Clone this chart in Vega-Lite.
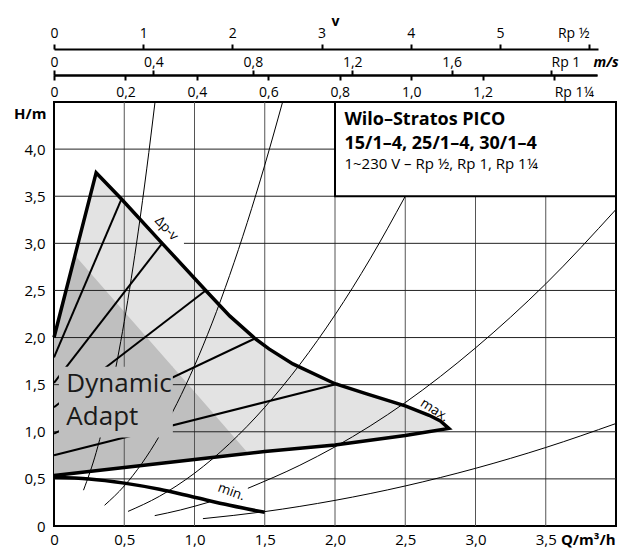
{
  "$schema": "https://vega.github.io/schema/vega-lite/v6.json",
  "width": 562,
  "height": 424,
  "autosize": {"type": "none"},
  "padding": {"left": 54, "top": 102, "right": 3, "bottom": 22},
  "background": "white",
  "config": {
    "font": "Open Sans",
    "view": {"stroke": "#000", "strokeWidth": 2},
    "axis": {
      "labelFont": "Open Sans", "labelFontSize": 14, "labelColor": "#000",
      "titleFont": "Open Sans", "titleFontSize": 14, "titleColor": "#000",
      "grid": false, "labelFlush": false, "labelOverlap": false
    }
  },
  "datasets": {
    "light": [
      {"q": 0, "top": 2.0, "bot": 0.535},
      {"q": 0.3, "top": 3.75, "bot": 0.586},
      {"q": 0.48, "top": 3.47, "bot": 0.617},
      {"q": 0.77, "top": 3.0, "bot": 0.666},
      {"q": 1.08, "top": 2.5, "bot": 0.72},
      {"q": 1.25, "top": 2.23, "bot": 0.748},
      {"q": 1.43, "top": 1.99, "bot": 0.777},
      {"q": 1.53, "top": 1.88, "bot": 0.794},
      {"q": 1.7, "top": 1.72, "bot": 0.818},
      {"q": 2.0, "top": 1.51, "bot": 0.86},
      {"q": 2.22, "top": 1.405, "bot": 0.904},
      {"q": 2.5, "top": 1.275, "bot": 0.96},
      {"q": 2.67, "top": 1.175, "bot": 1.001},
      {"q": 2.75, "top": 1.115, "bot": 1.02},
      {"q": 2.81, "top": 1.035, "bot": 1.035}
    ],
    "dark": [
      {"q": 0, "top": 2.0, "bot": 0.535},
      {"q": 0.15, "top": 2.87, "bot": 0.561},
      {"q": 0.5, "top": 2.275, "bot": 0.62},
      {"q": 1.0, "top": 1.425, "bot": 0.705},
      {"q": 1.38, "top": 0.775, "bot": 0.775}
    ],
    "env": [
      {"i": 0, "q": 0, "h": 0.535},
      {"i": 1, "q": 1.0, "h": 0.705},
      {"i": 2, "q": 1.5, "h": 0.79},
      {"i": 3, "q": 2.0, "h": 0.86},
      {"i": 4, "q": 2.5, "h": 0.96},
      {"i": 5, "q": 2.81, "h": 1.035},
      {"i": 6, "q": 2.75, "h": 1.115},
      {"i": 7, "q": 2.67, "h": 1.175},
      {"i": 8, "q": 2.5, "h": 1.275},
      {"i": 9, "q": 2.22, "h": 1.405},
      {"i": 10, "q": 2.0, "h": 1.51},
      {"i": 11, "q": 1.7, "h": 1.72},
      {"i": 12, "q": 1.53, "h": 1.88},
      {"i": 13, "q": 1.43, "h": 1.99},
      {"i": 14, "q": 1.25, "h": 2.23},
      {"i": 15, "q": 1.08, "h": 2.5},
      {"i": 16, "q": 0.77, "h": 3.0},
      {"i": 17, "q": 0.48, "h": 3.47},
      {"i": 18, "q": 0.3, "h": 3.75},
      {"i": 19, "q": 0, "h": 2.0}
    ],
    "minc": [
      {"q": 0, "h": 0.515},
      {"q": 0.25, "h": 0.5},
      {"q": 0.5, "h": 0.455},
      {"q": 0.75, "h": 0.39},
      {"q": 1.0, "h": 0.305},
      {"q": 1.25, "h": 0.22},
      {"q": 1.5, "h": 0.145}
    ],
    "sys": [
      {"c": "T1", "q": 0.21, "h": 0.38}, {"c": "T1", "q": 0.3, "h": 0.78}, {"c": "T1", "q": 0.4, "h": 1.39},
      {"c": "T1", "q": 0.5, "h": 2.17}, {"c": "T1", "q": 0.6, "h": 3.13}, {"c": "T1", "q": 0.66, "h": 3.79},
      {"c": "T1", "q": 0.719, "h": 4.5},
      {"c": "T2", "q": 0.36, "h": 0.22}, {"c": "T2", "q": 0.5, "h": 0.425}, {"c": "T2", "q": 0.75, "h": 0.955},
      {"c": "T2", "q": 1.0, "h": 1.7}, {"c": "T2", "q": 1.25, "h": 2.66}, {"c": "T2", "q": 1.5, "h": 3.83},
      {"c": "T2", "q": 1.627, "h": 4.5},
      {"c": "T3", "q": 0.527, "h": 0.155}, {"c": "T3", "q": 0.75, "h": 0.315}, {"c": "T3", "q": 1.0, "h": 0.56},
      {"c": "T3", "q": 1.25, "h": 0.875}, {"c": "T3", "q": 1.5, "h": 1.26}, {"c": "T3", "q": 1.75, "h": 1.715},
      {"c": "T3", "q": 2.0, "h": 2.24}, {"c": "T3", "q": 2.25, "h": 2.835}, {"c": "T3", "q": 2.5, "h": 3.5},
      {"c": "T4a", "q": 0.717, "h": 0.11}, {"c": "T4a", "q": 0.9, "h": 0.17}, {"c": "T4a", "q": 1.107, "h": 0.255},
      {"c": "T4b", "q": 1.38, "h": 0.4}, {"c": "T4b", "q": 1.75, "h": 0.645}, {"c": "T4b", "q": 2.0, "h": 0.84},
      {"c": "T4b", "q": 2.5, "h": 1.31}, {"c": "T4b", "q": 3.0, "h": 1.89}, {"c": "T4b", "q": 3.5, "h": 2.57},
      {"c": "T4b", "q": 4.0, "h": 3.36},
      {"c": "T5", "q": 1.06, "h": 0.078}, {"c": "T5", "q": 1.5, "h": 0.153}, {"c": "T5", "q": 2.0, "h": 0.272},
      {"c": "T5", "q": 2.5, "h": 0.425}, {"c": "T5", "q": 3.0, "h": 0.612}, {"c": "T5", "q": 3.5, "h": 0.833},
      {"c": "T5", "q": 4.0, "h": 1.088}
    ],
    "da": [
      {"c": "A", "q": 0, "h": 0.75}, {"c": "A", "q": 2.02, "h": 1.51},
      {"c": "B", "q": 0, "h": 0.98}, {"c": "B", "q": 1.43, "h": 1.99},
      {"c": "C", "q": 0, "h": 1.26}, {"c": "C", "q": 1.08, "h": 2.5},
      {"c": "D", "q": 0, "h": 1.52}, {"c": "D", "q": 0.77, "h": 3.0},
      {"c": "E", "q": 0, "h": 1.79}, {"c": "E", "q": 0.48, "h": 3.47}
    ],
    "vgrid": [
      {"q": 0.5, "h1": 0, "h2": 4.5}, {"q": 1.0, "h1": 0, "h2": 4.5}, {"q": 1.5, "h1": 0, "h2": 4.5},
      {"q": 2.0, "h1": 0, "h2": 4.5}, {"q": 2.5, "h1": 0, "h2": 4.5}, {"q": 3.0, "h1": 0, "h2": 4.5},
      {"q": 3.5, "h1": 0, "h2": 4.5}
    ],
    "hgrid": [
      {"h": 0.5, "q1": 0, "q2": 4}, {"h": 1.0, "q1": 0, "q2": 4}, {"h": 1.5, "q1": 0, "q2": 4},
      {"h": 2.0, "q1": 0, "q2": 4}, {"h": 2.5, "q1": 0, "q2": 4},
      {"h": 3.0, "q1": 0, "q2": 0.77}, {"h": 3.0, "q1": 0.925, "q2": 4},
      {"h": 3.5, "q1": 0, "q2": 4}, {"h": 4.0, "q1": 0, "q2": 4}
    ],
    "daBox": [{"q1": 0.035, "q2": 0.846, "h1": 0.94, "h2": 1.69}],
    "titleBox": [{"q1": 2.0, "q2": 4.0, "h1": 3.5, "h2": 4.5}],
    "titleBold": [
      {"q": 2.067, "h": 4.254, "t": "Wilo–Stratos PICO"},
      {"q": 2.067, "h": 3.996, "t": "15/1–4, 25/1–4, 30/1–4"}
    ],
    "titleReg": [{"q": 2.067, "h": 3.794, "t": "1~230 V – Rp ½, Rp 1, Rp 1¼"}],
    "daText": [
      {"q": 0.088, "h": 1.423, "t": "Dynamic"},
      {"q": 0.088, "h": 1.069, "t": "Adapt"}
    ],
    "lblDpv": [{"q": 0.8, "h": 3.157, "t": "Δp-v"}],
    "lblMax": [{"q": 2.708, "h": 1.228, "t": "max."}],
    "lblMin": [{"q": 1.262, "h": 0.361, "t": "min."}]
  },
  "resolve": {"scale": {"x": "independent"}, "axis": {"x": "independent"}},
  "layer": [
    {
      "data": {"name": "light"},
      "mark": {"type": "area", "color": "#e3e3e3"},
      "encoding": {
        "x": {"field": "q", "type": "quantitative",
          "scale": {"domain": [0, 4], "nice": false, "zero": false},
          "axis": {
            "orient": "bottom",
            "values": [0, 0.5, 1, 1.5, 2, 2.5, 3, 3.5],
            "labelExpr": "datum.value == 0 ? '0' : replace(format(datum.value, '.1f'), '.', ',')",
            "labelFontSize": 15,
            "ticks": false, "domain": false, "labelPadding": 13, "labelBaseline": "middle",
            "title": "Q/m³/h", "titleFontSize": 15, "titleFontWeight": "bold", "titleX": 561, "titleY": 13,
            "titleAlign": "right", "titleBaseline": "middle"
          }},
        "y": {"field": "top", "type": "quantitative",
          "scale": {"domain": [0, 4.5], "nice": false, "zero": false},
          "axis": {
            "orient": "left",
            "values": [0, 0.5, 1, 1.5, 2, 2.5, 3, 3.5, 4],
            "labelExpr": "datum.value == 0 ? '0' : replace(format(datum.value, '.1f'), '.', ',')",
            "labelFontSize": 15,
            "ticks": false, "domain": false, "labelPadding": 9, "labelBaseline": "middle",
            "title": "H/m", "titleFontSize": 15, "titleFontWeight": "bold", "titleAngle": 0, "titleX": -8, "titleY": 11,
            "titleAlign": "right", "titleBaseline": "middle"
          }},
        "y2": {"field": "bot"}
      }
    },
    {
      "data": {"name": "dark"},
      "mark": {"type": "area", "color": "#bfbfbf"},
      "encoding": {
        "x": {"field": "q", "type": "quantitative", "scale": {"domain": [0, 4], "nice": false, "zero": false}, "axis": null},
        "y": {"field": "top", "type": "quantitative"},
        "y2": {"field": "bot"}
      }
    },
    {
      "data": {"name": "vgrid"},
      "mark": {"type": "rule", "color": "#555", "strokeWidth": 1},
      "encoding": {
        "x": {"field": "q", "type": "quantitative", "scale": {"domain": [0, 4], "nice": false, "zero": false}, "axis": null},
        "y": {"field": "h1", "type": "quantitative"},
        "y2": {"field": "h2"}
      }
    },
    {
      "data": {"name": "hgrid"},
      "mark": {"type": "rule", "color": "#222", "strokeWidth": 1},
      "encoding": {
        "x": {"field": "q1", "type": "quantitative", "scale": {"domain": [0, 4], "nice": false, "zero": false}, "axis": null},
        "x2": {"field": "q2"},
        "y": {"field": "h", "type": "quantitative"}
      }
    },
    {
      "data": {"name": "sys"},
      "mark": {"type": "line", "color": "#000", "strokeWidth": 1, "interpolate": "monotone"},
      "encoding": {
        "x": {"field": "q", "type": "quantitative", "scale": {"domain": [0, 4], "nice": false, "zero": false}, "axis": null},
        "y": {"field": "h", "type": "quantitative"},
        "detail": {"field": "c", "type": "nominal"}
      }
    },
    {
      "data": {"name": "da"},
      "mark": {"type": "line", "color": "#000", "strokeWidth": 2},
      "encoding": {
        "x": {"field": "q", "type": "quantitative", "scale": {"domain": [0, 4], "nice": false, "zero": false}, "axis": null},
        "y": {"field": "h", "type": "quantitative"},
        "detail": {"field": "c", "type": "nominal"}
      }
    },
    {
      "data": {"name": "env"},
      "mark": {"type": "line", "color": "#000", "strokeWidth": 3.5, "strokeJoin": "miter", "strokeMiterLimit": 20},
      "encoding": {
        "x": {"field": "q", "type": "quantitative", "scale": {"domain": [0, 4], "nice": false, "zero": false}, "axis": null},
        "y": {"field": "h", "type": "quantitative"},
        "order": {"field": "i", "type": "quantitative"}
      }
    },
    {
      "data": {"name": "minc"},
      "mark": {"type": "line", "color": "#000", "strokeWidth": 3.5, "interpolate": "monotone"},
      "encoding": {
        "x": {"field": "q", "type": "quantitative", "scale": {"domain": [0, 4], "nice": false, "zero": false}, "axis": null},
        "y": {"field": "h", "type": "quantitative"}
      }
    },
    {
      "data": {"name": "daBox"},
      "mark": {"type": "rect", "color": "#bfbfbf"},
      "encoding": {
        "x": {"field": "q1", "type": "quantitative", "scale": {"domain": [0, 4], "nice": false, "zero": false}, "axis": null},
        "x2": {"field": "q2"},
        "y": {"field": "h1", "type": "quantitative"},
        "y2": {"field": "h2"}
      }
    },
    {
      "data": {"name": "titleBox"},
      "mark": {"type": "rect", "fill": "#fff", "stroke": "#000", "strokeWidth": 2},
      "encoding": {
        "x": {"field": "q1", "type": "quantitative", "scale": {"domain": [0, 4], "nice": false, "zero": false}, "axis": null},
        "x2": {"field": "q2"},
        "y": {"field": "h1", "type": "quantitative"},
        "y2": {"field": "h2"}
      }
    },
    {
      "data": {"name": "titleBold"},
      "mark": {"type": "text", "align": "left", "baseline": "alphabetic", "fontSize": 18, "fontWeight": "bold", "color": "#000"},
      "encoding": {
        "x": {"field": "q", "type": "quantitative", "scale": {"domain": [0, 4], "nice": false, "zero": false}, "axis": null},
        "y": {"field": "h", "type": "quantitative"},
        "text": {"field": "t"}
      }
    },
    {
      "data": {"name": "titleReg"},
      "mark": {"type": "text", "align": "left", "baseline": "alphabetic", "fontSize": 15, "color": "#000"},
      "encoding": {
        "x": {"field": "q", "type": "quantitative", "scale": {"domain": [0, 4], "nice": false, "zero": false}, "axis": null},
        "y": {"field": "h", "type": "quantitative"},
        "text": {"field": "t"}
      }
    },
    {
      "data": {"name": "daText"},
      "mark": {"type": "text", "align": "left", "baseline": "alphabetic", "fontSize": 26, "color": "#1a1a1a"},
      "encoding": {
        "x": {"field": "q", "type": "quantitative", "scale": {"domain": [0, 4], "nice": false, "zero": false}, "axis": null},
        "y": {"field": "h", "type": "quantitative"},
        "text": {"field": "t"}
      }
    },
    {
      "data": {"name": "lblDpv"},
      "mark": {"type": "text", "align": "center", "baseline": "middle", "fontSize": 13.5, "angle": 47, "color": "#000"},
      "encoding": {
        "x": {"field": "q", "type": "quantitative", "scale": {"domain": [0, 4], "nice": false, "zero": false}, "axis": null},
        "y": {"field": "h", "type": "quantitative"},
        "text": {"field": "t"}
      }
    },
    {
      "data": {"name": "lblMax"},
      "mark": {"type": "text", "align": "center", "baseline": "middle", "fontSize": 13.5, "angle": 33, "color": "#000"},
      "encoding": {
        "x": {"field": "q", "type": "quantitative", "scale": {"domain": [0, 4], "nice": false, "zero": false}, "axis": null},
        "y": {"field": "h", "type": "quantitative"},
        "text": {"field": "t"}
      }
    },
    {
      "data": {"name": "lblMin"},
      "mark": {"type": "text", "align": "center", "baseline": "middle", "fontSize": 13.5, "angle": 20, "color": "#000"},
      "encoding": {
        "x": {"field": "q", "type": "quantitative", "scale": {"domain": [0, 4], "nice": false, "zero": false}, "axis": null},
        "y": {"field": "h", "type": "quantitative"},
        "text": {"field": "t"}
      }
    },
    {
      "data": {"values": [{"v": 0}]},
      "mark": {"type": "point", "opacity": 0},
      "encoding": {
        "x": {"field": "v", "type": "quantitative",
          "scale": {"domain": [0, 6.1], "range": [0, 544], "nice": false, "zero": false},
          "axis": {
            "orient": "top", "offset": 53, "values": [0, 1, 2, 3, 4, 5, 6],
            "labelExpr": "datum.value == 6 ? 'Rp ½' : format(datum.value, 'd')",
            "labelAlign": {"condition": {"test": "datum.value == 6", "value": "right"}, "value": "center"},
            "tickSize": 5, "tickWidth": 2, "tickColor": "#000", "domainColor": "#000", "domainWidth": 2,
            "labelPadding": 11, "labelBaseline": "middle",
            "title": "v", "titleFontWeight": "bold", "titleX": 281, "titleY": -28,
            "titleAlign": "center", "titleBaseline": "middle"
          }}
      }
    },
    {
      "data": {"values": [{"v": 0}]},
      "mark": {"type": "point", "opacity": 0},
      "encoding": {
        "x": {"field": "v", "type": "quantitative",
          "scale": {"domain": [0, 2.185], "range": [0, 543], "nice": false, "zero": false},
          "axis": {
            "orient": "top", "offset": 27, "values": [0, 0.4, 0.8, 1.2, 1.6, 2.0],
            "labelExpr": "datum.value == 0 ? '0' : datum.value > 1.9 ? 'Rp 1' : replace(format(datum.value, '.1f'), '.', ',')",
            "labelAlign": {"condition": {"test": "datum.value > 1.9", "value": "left"}, "value": "center"},
            "tickSize": 5, "tickWidth": 2, "tickColor": "#000", "domainColor": "#000", "domainWidth": 2,
            "labelPadding": 8, "labelBaseline": "middle",
            "title": "m/s", "titleFontWeight": "bold", "titleFontStyle": "italic", "titleX": 539, "titleY": -13,
            "titleAlign": "left", "titleBaseline": "middle"
          }}
      }
    },
    {
      "data": {"values": [{"v": 0}]},
      "mark": {"type": "point", "opacity": 0},
      "encoding": {
        "x": {"field": "v", "type": "quantitative",
          "scale": {"domain": [0, 1.52], "range": [0, 543], "nice": false, "zero": false},
          "axis": {
            "orient": "bottom", "offset": -451, "values": [0, 0.2, 0.4, 0.6, 0.8, 1.0, 1.2, 1.4],
            "labelExpr": "datum.value == 0 ? '0' : datum.value > 1.3 ? 'Rp 1¼' : replace(format(datum.value, '.1f'), '.', ',')",
            "labelAlign": {"condition": {"test": "datum.value > 1.3", "value": "left"}, "value": "center"},
            "tickSize": 5, "tickWidth": 2, "tickColor": "#000", "domainColor": "#000", "domainWidth": 2,
            "labelPadding": 12, "labelBaseline": "middle",
            "title": null
          }}
      }
    }
  ]
}
